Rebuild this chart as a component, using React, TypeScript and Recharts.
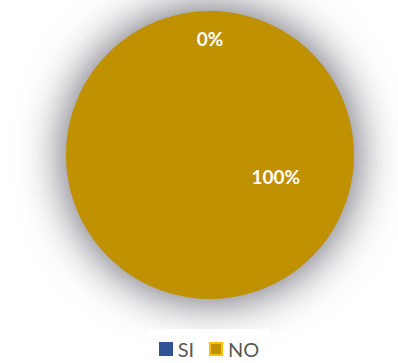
import { PieChart, Pie, Cell, Legend } from "recharts";

const categories = ["SI", "NO"];
const values = [0, 100];
const colors = ["#2F5597", "#BF9000"];
const legendBorders = ["#2F5597", "#FFC000"];

const data = categories.map((name, i) => ({ name, value: values[i] }));

const RAD = Math.PI / 180;

// Excel puts the label of a full slice off its midpoint, so nudge it
function renderLabel(props: any) {
  const { cx, cy, midAngle, outerRadius, percent } = props;
  const full = percent >= 0.999;
  const angle = full ? -18 : midAngle;
  const r = outerRadius * (full ? 0.48 : 0.81);
  const x = cx + r * Math.cos(-angle * RAD);
  const y = cy + r * Math.sin(-angle * RAD);
  return (
    <text
      x={x}
      y={y}
      fill="#fff"
      textAnchor="middle"
      dominantBaseline="central"
      fontFamily="Lato"
      fontWeight="bold"
      fontSize={19}
    >
      {`${Math.round(percent * 100)}%`}
    </text>
  );
}

function LegendBox() {
  return (
    <div
      style={{
        display: "flex",
        justifyContent: "center",
        alignItems: "center",
        gap: 15,
        height: "100%",
        paddingTop: 6,
        boxSizing: "border-box",
        background: "#fff",
        fontFamily: "Lato",
        fontSize: 20,
        color: "#595959",
      }}
    >
      {categories.map((c, i) => (
        <span key={c} style={{ display: "flex", alignItems: "center" }}>
          <span
            style={{
              width: 10,
              height: 10,
              background: colors[i],
              border: `2px solid ${legendBorders[i]}`,
              marginRight: 5,
              display: "inline-block",
            }}
          />
          {c}
        </span>
      ))}
    </div>
  );
}

export default function App() {
  return (
    <div style={{ position: "absolute", left: 0, top: 0, background: "#fff" }}>
      <PieChart width={398} height={363}>
        <Pie
          data={data}
          dataKey="value"
          nameKey="name"
          cx={205}
          cy={150}
          outerRadius={144}
          startAngle={90}
          endAngle={-270}
          stroke="none"
          labelLine={false}
          label={renderLabel}
          isAnimationActive={false}
        >
          {data.map((d, i) => (
            <Cell
              key={d.name}
              fill={colors[i]}
              style={{ filter: "drop-shadow(0px 0px 24px rgba(85,85,95,1))" }}
            />
          ))}
        </Pie>
        <Legend
          content={<LegendBox />}
          wrapperStyle={{ left: 148, top: 329, width: 122, height: 34 }}
        />
      </PieChart>
    </div>
  );
}
